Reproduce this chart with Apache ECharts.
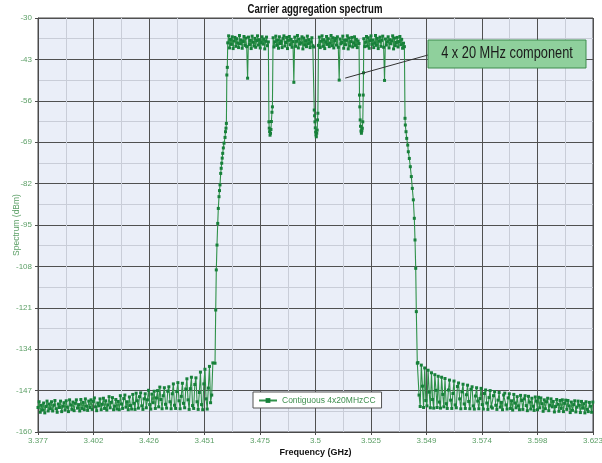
<!DOCTYPE html>
<html>
<head>
<meta charset="utf-8">
<script src="https://cdn.jsdelivr.net/npm/echarts@6/dist/echarts.min.js"></script>
<style>
  html, body { margin: 0; padding: 0; background: #fff; }
  #chart { width: 602px; height: 463px; }
</style>
</head>
<body>
<div id="chart"></div>
<script>
// sweep grid settings (GHz)
var floorStep = 0.0005;
var carrierStep = 0.0004;
var leftFloorStart = 3.377;
var rightFloorStart = 3.5454;
var carrierStarts = [3.4611, 3.4812, 3.5013, 3.5214];

// left noise floor (dBm)
var leftFloor = [
  -152.3, -150.5, -153.8, -151.6, -153.1, -150.9, -154.0, -152.0, -150.3, -153.4, -151.2, -152.7,
  -150.5, -153.4, -151.6, -150.1, -152.7, -153.8, -151.2, -152.3, -150.3, -153.6, -151.9, -150.8,
  -153.1, -150.2, -152.2, -153.6, -149.9, -151.5, -152.9, -150.6, -153.3, -151.0, -149.9, -152.5,
  -151.4, -153.4, -149.8, -152.6, -150.7, -153.0, -149.6, -151.9, -153.2, -150.3, -152.3, -149.9,
  -152.9, -150.4, -149.3, -152.1, -153.3, -150.9, -151.8, -149.6, -153.0, -151.3, -149.4, -152.6,
  -150.2, -153.1, -151.5, -148.9, -152.4, -150.7, -149.2, -153.0, -151.9, -149.8, -152.8, -150.4,
  -153.0, -148.6, -151.2, -152.6, -149.5, -148.4, -152.2, -150.5, -153.0, -149.0, -151.7, -152.8,
  -148.2, -151.0, -152.9, -147.8, -150.2, -152.5, -148.9, -147.7, -151.8, -152.9, -149.6, -148.0,
  -152.4, -149.9, -146.9, -151.4, -152.8, -148.1, -150.8, -147.2, -152.6, -149.3, -147.0, -152.1,
  -145.9, -149.8, -152.7, -148.6, -146.1, -151.3, -152.5, -147.2, -145.8, -150.5, -152.7, -148.0,
  -144.9, -151.6, -152.6, -147.3, -144.5, -150.2, -152.7, -148.8, -144.7, -151.0, -152.4, -146.5,
  -143.3, -149.9, -152.9, -146.4, -142.8, -151.7, -152.6, -145.1, -143.0, -150.5, -152.9, -147.6,
  -141.2, -151.4, -153.0, -144.9, -140.3, -149.6, -152.8, -146.2, -139.4, -150.8, -148.4, -138.3
];

// left skirt
var leftEdgeGHz = [3.45546, 3.45577, 3.45603, 3.45634, 3.45666, 3.45692, 3.45723, 3.45745,
  3.45767, 3.45798, 3.45820, 3.45843, 3.45865, 3.45887, 3.45915, 3.45945, 3.45990, 3.46010,
  3.46033, 3.46050, 3.46070, 3.46091];
var leftEdgeDbm = [-138.4, -121.7, -109.1, -101.3, -94.5, -89.8, -86.1, -84.2,
  -82.4, -78.8, -77.2, -75.6, -74.0, -72.5, -70.8, -69.3, -67.5, -65.7,
  -64.6, -63.1, -47.9, -45.5];

// four 20 MHz component carriers
var carrier1 = [
  -37.8, -35.6, -39.4, -36.7, -38.3, -35.9, -39.6, -37.2, -36.1, -38.9,
  -36.5, -37.9, -39.3, -35.5, -38.1, -36.9, -39.5, -37.4, -35.8, -38.6,
  -36.3, -39.0, -48.9, -36.0, -38.4, -37.0, -39.6, -35.7, -37.6, -38.8,
  -36.4, -39.2, -37.1, -35.6, -38.5, -36.8, -39.4, -37.7, -35.9, -38.2,
  -36.6, -39.7, -37.3, -36.0, -38.7, -37.5];
var carrier2 = [
  -36.2, -39.1, -37.5, -35.7, -38.6, -36.9, -39.5, -35.9, -38.0, -37.2,
  -39.3, -36.4, -35.6, -38.8, -37.7, -36.1, -39.6, -37.0, -35.8, -38.4,
  -36.7, -39.2, -37.4, -50.2, -36.0, -38.9, -37.3, -35.5, -39.4, -36.6,
  -38.2, -37.8, -35.9, -39.7, -36.3, -38.5, -37.1, -39.0, -35.7, -38.1,
  -36.8, -39.3, -37.6, -36.2, -38.7, -39.1];
var carrier3 = [
  -38.6, -36.0, -39.3, -37.3, -35.6, -38.9, -36.8, -39.6, -37.5, -35.8,
  -38.3, -36.5, -39.0, -37.9, -35.5, -38.7, -36.2, -39.4, -37.1, -36.4,
  -38.5, -35.9, -39.2, -49.5, -36.6, -38.1, -37.7, -35.7, -39.5, -36.9,
  -38.4, -37.0, -35.6, -39.7, -36.3, -38.8, -37.4, -36.1, -39.1, -37.8,
  -35.9, -38.6, -36.7, -39.3, -37.2, -38.0];
var carrier4 = [
  -36.5, -39.0, -37.6, -35.8, -38.8, -36.2, -39.5, -37.1, -35.6, -38.3,
  -36.9, -39.3, -37.8, -35.5, -38.6, -36.4, -39.6, -37.3, -36.0, -38.9,
  -37.0, -35.7, -39.2, -49.6, -36.6, -38.5, -37.5, -35.9, -39.4, -36.8,
  -38.1, -37.2, -35.6, -39.7, -36.3, -38.7, -37.7, -36.1, -39.1, -37.4,
  -35.8, -38.4, -36.7, -39.5, -37.9, -39.0];

// dips between carriers
var gap1GHz = [3.47935, 3.47950, 3.47965, 3.47985, 3.48005, 3.48025, 3.48045, 3.48070, 3.48090];
var gap1Dbm = [-62.6, -64.6, -65.7, -66.8, -66.2, -65.0, -62.5, -59.6, -57.9];
var gap2GHz = [3.49945, 3.49960, 3.49975, 3.49990, 3.50005, 3.50020, 3.50035, 3.50055, 3.50075, 3.50090, 3.50105];
var gap2Dbm = [-58.9, -60.7, -62.6, -64.5, -65.8, -66.7, -67.3, -66.2, -65.2, -62.0, -59.9];
var gap3GHz = [3.51950, 3.51965, 3.51980, 3.51995, 3.52015, 3.52035, 3.52055, 3.52075, 3.52095, 3.52115, 3.52128];
var gap3Dbm = [-54.2, -57.9, -62.0, -64.0, -65.5, -66.2, -65.4, -64.6, -62.6, -54.2, -47.2];

// right skirt
var rightEdgeGHz = [3.53968, 3.53981, 3.54012, 3.54043, 3.54088, 3.54114, 3.54159, 3.54203,
  3.54247, 3.54291, 3.54336, 3.54380, 3.54411, 3.54442, 3.54469, 3.54513];
var rightEdgeDbm = [-61.5, -63.6, -65.7, -67.8, -69.9, -72.0, -74.1, -76.7,
  -79.8, -83.5, -87.1, -92.9, -99.7, -108.6, -122.2, -138.4];

// right noise floor
var rightFloor = [
  -138.2, -148.4, -152.0, -139.0, -145.6, -152.3, -139.9, -150.1, -151.8, -140.6, -147.5, -152.4,
  -141.4, -149.8, -152.5, -142.0, -146.9, -152.3, -142.5, -150.6, -152.5, -142.8, -148.2, -152.1,
  -143.2, -151.1, -152.6, -146.8, -143.7, -150.0, -152.6, -147.9, -144.0, -151.5, -152.4, -145.7,
  -144.6, -149.6, -152.7, -147.4, -145.0, -151.2, -152.6, -148.3, -145.3, -150.4, -152.7, -146.6,
  -145.8, -151.8, -152.8, -148.7, -146.1, -150.3, -152.7, -149.5, -146.3, -151.4, -152.8, -147.9,
  -146.8, -150.9, -152.9, -149.2, -147.0, -152.1, -152.5, -148.6, -147.3, -151.6, -152.9, -150.0,
  -147.6, -152.2, -150.7, -153.0, -148.4, -147.8, -151.5, -152.8, -149.3, -148.0, -152.6, -150.2,
  -153.1, -148.2, -150.9, -152.4, -148.9, -151.8, -153.0, -148.5, -150.1, -152.9, -149.6, -148.6,
  -151.7, -153.3, -148.8, -150.6, -152.8, -149.4, -151.9, -153.2, -149.0, -150.3, -153.0, -149.1,
  -152.4, -149.3, -151.1, -153.5, -149.9, -152.7, -150.5, -149.4, -153.3, -151.6, -149.6, -152.1,
  -150.4, -153.7, -152.0, -149.8, -151.3, -153.5, -150.1, -152.6, -149.9, -153.6, -151.0, -150.0,
  -152.9, -150.1, -151.8, -153.9, -150.6, -153.2, -151.4, -150.2, -153.7, -152.2, -150.3, -151.6,
  -153.9, -150.4, -152.5, -151.1, -154.0, -150.5, -152.9, -153.6, -150.7, -151.9, -153.8, -150.6
];

// axis settings
var xMin = 3.377, xMax = 3.623, xInterval = 0.0246;
var yMin = -160, yMax = -30, yInterval = 13;
var titleText = 'Carrier aggregation spectrum';
var seriesName = 'Contiguous 4x20MHzCC';
var noteText = '4 x 20 MHz component';
var notePoint = [3.5105, -49.5];

function onGrid(start, step, vals) {
    return vals.map(function (v, i) {
        return [+(start + i * step).toFixed(5), v];
    });
}
function pairs(freqs, vals) {
    return freqs.map(function (f, i) { return [f, vals[i]]; });
}

var data = [].concat(
    onGrid(leftFloorStart, floorStep, leftFloor),
    pairs(leftEdgeGHz, leftEdgeDbm),
    onGrid(carrierStarts[0], carrierStep, carrier1),
    pairs(gap1GHz, gap1Dbm),
    onGrid(carrierStarts[1], carrierStep, carrier2),
    pairs(gap2GHz, gap2Dbm),
    onGrid(carrierStarts[2], carrierStep, carrier3),
    pairs(gap3GHz, gap3Dbm),
    onGrid(carrierStarts[3], carrierStep, carrier4),
    pairs(rightEdgeGHz, rightEdgeDbm),
    onGrid(rightFloorStart, floorStep, rightFloor)
);

var sans = "'Liberation Sans', Arial, sans-serif";
var labelGreen = '#5c9f66';

var chart = echarts.init(document.getElementById('chart'), null, { renderer: 'canvas' });
var option = {
    animation: false,
    backgroundColor: '#ffffff',
    grid: {
        left: 38, right: 9, top: 18, bottom: 31,
        containLabel: false,
        outerBoundsMode: 'none',
        show: true,
        backgroundColor: '#eaeef8',
        borderColor: '#4a4a4a',
        borderWidth: 1
    },
    legend: {
        left: 253,
        top: 392,
        padding: [4, 6, 3, 5],
        backgroundColor: '#ffffff',
        borderColor: '#555',
        borderWidth: 1,
        itemWidth: 18,
        itemHeight: 6,
        itemGap: 4,
        textStyle: { fontFamily: sans, fontSize: 8.5, color: '#3f8f4e' },
        data: [seriesName]
    },
    xAxis: {
        type: 'value',
        min: xMin,
        max: xMax,
        interval: xInterval,
        name: 'Frequency (GHz)',
        nameLocation: 'middle',
        nameGap: 16,
        nameMoveOverlap: false,
        nameTextStyle: { fontFamily: sans, fontSize: 9, fontWeight: 'bold', color: '#111' },
        axisLine: { lineStyle: { color: '#4a4a4a' } },
        axisTick: { show: true, length: 3, lineStyle: { color: '#4a4a4a' } },
        axisLabel: {
            fontFamily: sans, fontSize: 8, color: labelGreen, margin: 5,
            formatter: function (v) { return String(parseFloat(v.toFixed(3))); }
        },
        splitLine: { lineStyle: { color: '#505050', width: 1 } },
        minorTick: { show: false, splitNumber: 2 },
        minorSplitLine: { show: true, lineStyle: { color: '#c9cdd8', width: 1 } }
    },
    yAxis: {
        type: 'value',
        min: yMin,
        max: yMax,
        interval: yInterval,
        name: 'Spectrum (dBm)',
        nameLocation: 'middle',
        nameGap: 17,
        nameMoveOverlap: false,
        nameTextStyle: { fontFamily: sans, fontSize: 8.5, color: labelGreen },
        axisLine: { show: true, lineStyle: { color: '#4a4a4a' } },
        axisTick: { show: true, length: 3, lineStyle: { color: '#4a4a4a' } },
        axisLabel: { fontFamily: sans, fontSize: 8, color: labelGreen, margin: 6 },
        splitLine: { lineStyle: { color: '#505050', width: 1 } },
        minorTick: { show: false, splitNumber: 2 },
        minorSplitLine: { show: true, lineStyle: { color: '#c9cdd8', width: 1 } }
    },
    series: [{
        name: seriesName,
        type: 'line',
        data: data,
        symbol: 'rect',
        symbolSize: 3,
        showSymbol: true,
        sampling: null,
        itemStyle: { color: '#17803a' },
        lineStyle: { color: '#2f9149', width: 1.1 },
        emphasis: { disabled: true }
    }]
};
chart.setOption(option);

// title, callout box and its leader line (condensed look via scaleX)
var p = chart.convertToPixel({ gridIndex: 0 }, notePoint);
chart.setOption({
    graphic: [
        {
            type: 'text',
            x: 315, y: 10,
            scaleX: 0.8,
            style: {
                text: titleText, font: "bold 12px " + sans, fill: '#111',
                textAlign: 'center', textVerticalAlign: 'middle'
            },
            z: 100
        },
        {
            type: 'line',
            shape: { x1: p[0] + 6, y1: p[1] - 2, x2: 428, y2: 55 },
            style: { stroke: '#333', lineWidth: 1 },
            z: 100
        },
        {
            type: 'rect',
            x: 428, y: 40,
            shape: { width: 158, height: 28 },
            style: { fill: '#8fd09c', stroke: '#3c8c4c', lineWidth: 1 },
            z: 100
        },
        {
            type: 'text',
            x: 507, y: 54,
            scaleX: 0.8,
            style: {
                text: noteText, font: "16px " + sans, fill: '#1a1a1a',
                textAlign: 'center', textVerticalAlign: 'middle'
            },
            z: 101
        }
    ]
});
</script>
</body>
</html>
